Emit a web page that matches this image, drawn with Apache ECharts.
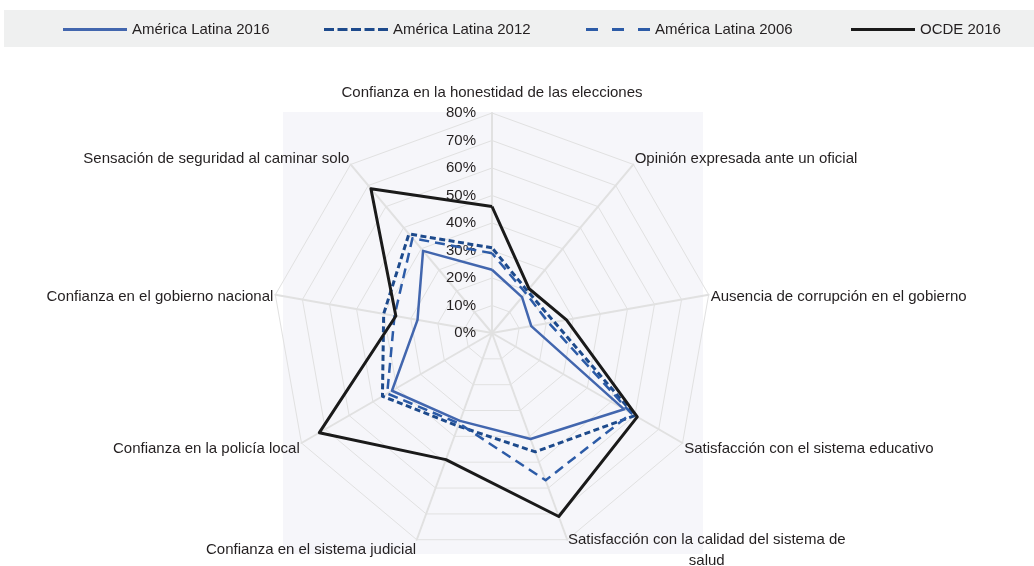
<!DOCTYPE html>
<html>
<head>
<meta charset="utf-8">
<script src="https://cdn.jsdelivr.net/npm/echarts@6/dist/echarts.min.js"></script>
<style>
  html, body { margin: 0; padding: 0; background: #fff; }
  #chart { width: 1034px; height: 566px; }
</style>
</head>
<body>
<div id="chart"></div>
<script>
// indicators in the order echarts lays them out (from the top, going left)
var indicators = [
  "Confianza en la honestidad de las elecciones",
  "Sensación de seguridad al caminar solo",
  "Confianza en el gobierno nacional",
  "Confianza en la policía local",
  "Confianza en el sistema judicial",
  "Satisfacción con la calidad del sistema de salud",
  "Satisfacción con el sistema educativo",
  "Ausencia de corrupción en el gobierno",
  "Opinión expresada ante un oficial"
];
var seriesNames = ["América Latina 2016", "América Latina 2012", "América Latina 2006", "OCDE 2016"];
var al2016 = [23, 39, 27.5, 42, 34, 41, 55.5, 14.5, 17];
var al2012 = [31, 47, 40, 46, 36, 46, 60, 23, 20];
var al2006 = [29, 45, 36, 44, 35, 57, 58.5, 21, 19];
var ocde2016 = [46, 68.5, 35.5, 72.5, 49, 71, 61, 27.5, 21];
var axisMax = 80;

var font = "'Liberation Sans', Arial, sans-serif";
var fontSize = 15;
var textColor = "#231f20";
var colors = ["#4266ae", "#1d4a8c", "#2c5ba7", "#1a1a1a"];

// legend icons, 64x3
var icons = [
  "path://M0,0H64V3H0Z",
  "path://M0,0H10V3H0Z M13.5,0H23.5V3H13.5Z M27,0H37V3H27Z M40.5,0H50.5V3H40.5Z M54,0H64V3H54Z",
  "path://M0,0H12V3H0Z M26,0H38V3H26Z M52,0H64V3H52Z",
  "path://M0,0H64V3H0Z"
];
var legendLeft = [63, 324, 586, 851];

// small vertical nudges of the indicator names (spacer above / below, px)
var nameShift = {
  "Confianza en la honestidad de las elecciones": [0, 2],
  "Opinión expresada ante un oficial": [0, 8],
  "Sensación de seguridad al caminar solo": [0, 8],
  "Ausencia de corrupción en el gobierno": [4, 0],
  "Confianza en el gobierno nacional": [4, 0],
  "Satisfacción con el sistema educativo": [10, 0],
  "Confianza en la policía local": [10, 0],
  "Confianza en el sistema judicial": [16, 0],
  "Satisfacción con la calidad del sistema de salud": [17, 0]
};

var chart = echarts.init(document.getElementById("chart"));

var legends = seriesNames.map(function (n, i) {
  return {
    left: legendLeft[i],
    top: 22,
    padding: 0,
    itemWidth: 64,
    itemHeight: 3,
    itemGap: 0,
    selectedMode: false,
    data: [{ name: n, icon: icons[i], itemStyle: { color: colors[i] } }],
    textStyle: { fontFamily: font, fontSize: fontSize, color: textColor }
  };
});

var lineStyles = [
  { width: 2.5, type: "solid" },
  { width: 3, type: [6, 3.5] },
  { width: 2.5, type: [10, 6] },
  { width: 3, type: "solid" }
];
var values = [al2016, al2012, al2006, ocde2016];

function nameFormatter(name) {
  var body;
  if (name === "Satisfacción con la calidad del sistema de salud") {
    body = "{t|Satisfacción con la calidad del sistema de}\n{c|salud}";
  } else {
    body = "{t|" + name + "}";
  }
  var s = nameShift[name];
  if (s) {
    if (s[0]) body = "{s" + s[0] + "| }\n" + body;
    if (s[1]) body = body + "\n{s" + s[1] + "| }";
  }
  return body;
}

var rich = {
  t: { fontFamily: font, fontSize: fontSize, color: textColor, lineHeight: 21 },
  c: { fontFamily: font, fontSize: fontSize, color: textColor, lineHeight: 21, align: "center" }
};
[2, 4, 8, 10, 16, 17].forEach(function (h) {
  rich["s" + h] = { fontSize: 2, lineHeight: h };
});

var option = {
  animation: false,
  backgroundColor: "#fff",
  graphic: [
    { type: "rect", z: -10, shape: { x: 4, y: 10, width: 1030, height: 37 }, style: { fill: "#eff0f0" } },
    { type: "rect", z: -10, shape: { x: 283, y: 112, width: 420, height: 442 }, style: { fill: "#f6f6fa" } }
  ],
  legend: legends,
  radar: {
    center: [492, 333],
    radius: 220,
    startAngle: 90,
    shape: "polygon",
    splitNumber: 8,
    axisNameGap: 2,
    axisName: {
      color: textColor,
      fontFamily: font,
      fontSize: fontSize,
      formatter: nameFormatter,
      rich: rich
    },
    splitArea: { show: false },
    splitLine: { lineStyle: { color: "#e1e1e1", width: 1 } },
    axisLine: { lineStyle: { color: "#e1e1e1", width: 2 } },
    axisLabel: { show: false },
    indicator: indicators.map(function (n, i) {
      var ind = { name: n, min: 0, max: axisMax };
      if (i === 0) {
        ind.axisLabel = {
          show: true,
          margin: 16,
          fontFamily: font,
          fontSize: fontSize,
          color: textColor,
          formatter: "{value}%"
        };
      }
      return ind;
    })
  },
  series: [{
    type: "radar",
    symbol: "none",
    silent: true,
    data: seriesNames.map(function (n, i) {
      return {
        name: n,
        value: values[i],
        lineStyle: { color: colors[i], width: lineStyles[i].width, type: lineStyles[i].type },
        itemStyle: { color: colors[i] }
      };
    })
  }]
};

chart.setOption(option);
</script>
</body>
</html>
